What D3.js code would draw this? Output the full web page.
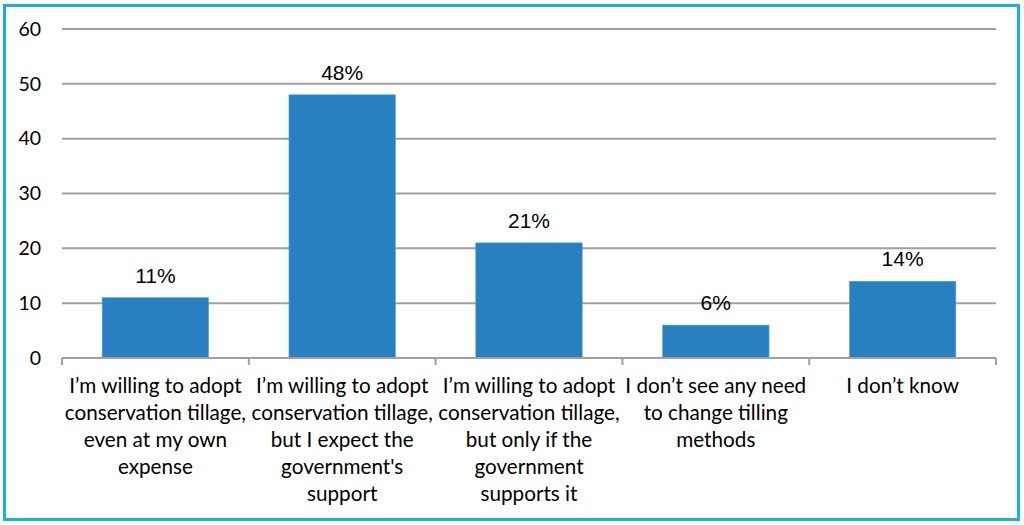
<!DOCTYPE html>
<html>
<head>
<meta charset="utf-8">
<script src="https://cdn.jsdelivr.net/npm/d3@7"></script>
<style>
  body { margin: 0; background: #fff; }
  svg { display: block; }
</style>
</head>
<body>
<div id="wrapper"></div>
<script>
// data
const categories = [
  "I’m willing to adopt conservation tillage, even at my own expense",
  "I’m willing to adopt conservation tillage, but I expect the government's support",
  "I’m willing to adopt conservation tillage, but only if the government supports it",
  "I don’t see any need to change tilling methods",
  "I don’t know"
]
const labelLines = [
  ["I’m willing to adopt", "conservation tillage,", "even at my own", "expense"],
  ["I’m willing to adopt", "conservation tillage,", "but I expect the", "government's", "support"],
  ["I’m willing to adopt", "conservation tillage,", "but only if the", "government", "supports it"],
  ["I don’t see any need", "to change tilling", "methods"],
  ["I don’t know"]
]
const values = [11, 48, 21, 6, 14]
const yTicks = [0, 10, 20, 30, 40, 50, 60]

function drawBars() {
  let dimensions = {
    width: 1024,
    height: 525,
    margin: { top: 29, right: 28, bottom: 167, left: 62 }
  }
  dimensions.boundedWidth = dimensions.width - dimensions.margin.left - dimensions.margin.right
  dimensions.boundedHeight = dimensions.height - dimensions.margin.top - dimensions.margin.bottom

  const wrapper = d3.select('#wrapper')
    .append('svg')
      .attr('width', dimensions.width)
      .attr('height', dimensions.height)

  // frame
  wrapper.append('rect')
      .attr('x', 4.5)
      .attr('y', 5.5)
      .attr('width', 1014)
      .attr('height', 514)
      .attr('fill', 'none')
      .attr('stroke', '#1bb3cf')
      .attr('stroke-width', 3)

  const bounds = wrapper.append('g')
    .attr('transform', `translate(${dimensions.margin.left}, ${dimensions.margin.top})`)

  // scales
  const xScale = d3.scaleBand()
    .domain(d3.range(categories.length))
    .range([0, dimensions.boundedWidth])
    .paddingInner(0.43)
    .paddingOuter(0.215)

  const yScale = d3.scaleLinear()
    .domain([0, 60])
    .range([dimensions.boundedHeight, 0])

  // gridlines
  bounds.append('g')
    .selectAll('line')
    .data(yTicks.filter(d => d > 0))
    .join('line')
      .attr('x1', 0)
      .attr('x2', dimensions.boundedWidth)
      .attr('y1', d => yScale(d))
      .attr('y2', d => yScale(d))
      .attr('stroke', '#a0a0a0')
      .attr('stroke-width', 2)

  // y axis labels
  const yAxisGenerator = d3.axisLeft(yScale)
    .tickValues(yTicks)
    .tickSize(0)
    .tickPadding(21)

  const yAxis = bounds.append('g').call(yAxisGenerator)
  yAxis.select('.domain').remove()
  yAxis.selectAll('text')
      .attr('font-family', 'Lato, "Open Sans", sans-serif')
      .attr('font-size', 19.5)
      .attr('fill', '#000')

  // bars
  bounds.append('g')
    .selectAll('rect')
    .data(values)
    .join('rect')
      .attr('x', (d, i) => xScale(i))
      .attr('y', d => yScale(d))
      .attr('width', xScale.bandwidth())
      .attr('height', d => dimensions.boundedHeight - yScale(d))
      .attr('fill', '#2980c1')
      .attr('stroke', '#5fa3d6')
      .attr('stroke-width', 0.6)

  // value labels
  bounds.append('g')
    .selectAll('text')
    .data(values)
    .join('text')
      .attr('x', (d, i) => xScale(i) + xScale.bandwidth() / 2)
      .attr('y', d => yScale(d) - 15)
      .attr('text-anchor', 'middle')
      .attr('font-family', '"Liberation Sans", Arial, sans-serif')
      .attr('font-size', 21)
      .attr('fill', '#000')
      .text(d => d + '%')

  // x axis line + boundary ticks
  const xAxis = bounds.append('g')
    .attr('transform', `translate(0, ${dimensions.boundedHeight})`)
  xAxis.append('line')
      .attr('x1', 0)
      .attr('x2', dimensions.boundedWidth)
      .attr('stroke', '#a0a0a0')
      .attr('stroke-width', 2)
  const step = xScale.step()
  const boundaries = d3.range(categories.length + 1).map(i => xScale(0) - xScale.paddingInner() * step / 2 + i * step)
  xAxis.selectAll('.tick-mark')
    .data(boundaries)
    .join('line')
      .attr('class', 'tick-mark')
      .attr('x1', d => d)
      .attr('x2', d => d)
      .attr('y1', 0)
      .attr('y2', 7)
      .attr('stroke', '#a0a0a0')
      .attr('stroke-width', 2)

  // category labels
  xAxis.selectAll('.cat-label')
    .data(labelLines)
    .join('text')
      .attr('class', 'cat-label')
      .attr('x', (d, i) => xScale(i) + xScale.bandwidth() / 2)
      .attr('y', 35)
      .attr('text-anchor', 'middle')
      .attr('font-family', 'Lato, "Open Sans", sans-serif')
      .attr('font-size', 20.7)
      .attr('fill', '#000')
    .selectAll('tspan')
    .data(d => d)
    .join('tspan')
      .attr('x', function() { return this.parentNode.getAttribute('x') })
      .attr('dy', (d, i) => i === 0 ? 0 : 27)
      .text(d => d)
}
drawBars()
</script>
</body>
</html>
